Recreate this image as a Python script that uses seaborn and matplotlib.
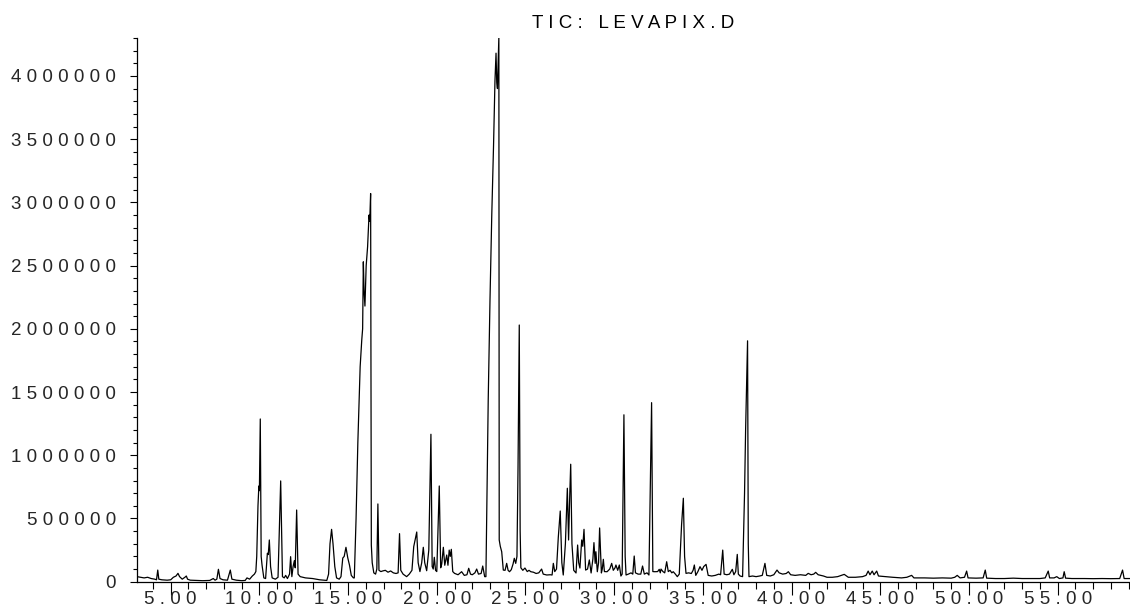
import numpy as np
import pandas as pd
import matplotlib
matplotlib.use("Agg")
import matplotlib.pyplot as plt
from matplotlib.ticker import MultipleLocator, FixedLocator, FixedFormatter
import seaborn as sns

# ---- data: retention time (min) and abundance (thousands of counts) ----
t_early = [3.10, 3.3, 3.5, 3.7, 3.9, 4.1, 4.2, 4.27, 4.33, 4.5, 4.8, 5.0, 5.15, 5.3, 5.41, 5.5,
           5.65, 5.8, 5.88, 5.95, 6.1, 6.4, 6.8, 7.2, 7.4, 7.5, 7.6, 7.69, 7.78, 7.95, 8.2, 8.36,
           8.45, 8.7, 9.0, 9.2, 9.3, 9.45, 9.6, 9.72, 9.8, 9.85, 9.92, 9.97, 10.0, 10.05, 10.1,
           10.15, 10.25]
y_early = [40, 35, 30, 35, 25, 20, 15, 92, 20, 15, 12, 15, 35, 45, 66, 40,
           20, 35, 45, 20, 12, 10, 8, 10, 25, 12, 20, 98, 25, 15, 12, 92,
           20, 12, 8, 10, 30, 20, 45, 60, 80, 200, 600, 757, 720, 1287, 200,
           130, 30]

t_mid1 = [10.35, 10.45, 10.5, 10.56, 10.63, 10.72, 10.9, 11.05, 11.2, 11.3, 11.4, 11.48, 11.58,
          11.7, 11.76, 11.83, 11.9, 11.97, 12.02, 12.1, 12.18, 12.3, 12.6, 13.0, 13.4, 13.8,
          13.9, 13.98, 14.07, 14.15, 14.25, 14.35, 14.5, 14.6, 14.7, 14.78, 14.88, 14.98,
          15.08, 15.18, 15.3]
y_mid1 = [25, 225, 215, 330, 120, 30, 20, 35, 797, 40, 30, 50, 25,
          60, 198, 40, 120, 166, 110, 567, 60, 40, 30, 25, 15, 10,
          60, 300, 414, 300, 120, 30, 20, 40, 187, 200, 272, 190,
          130, 50, 30]

t_big1 = [15.35, 15.45, 15.55, 15.68, 15.77, 15.82, 15.86, 15.9, 15.95, 16.02, 16.1, 16.18,
          16.22, 16.27, 16.31, 16.36, 16.45, 16.55, 16.62, 16.68, 16.74, 16.85]
y_big1 = [30, 500, 1100, 1700, 1910, 2000, 2530, 2300, 2180, 2500, 2650, 2900,
          2850, 3070, 290, 150, 70, 60, 100, 615, 90, 80]

t_mid2 = [16.95, 17.1, 17.25, 17.4, 17.55, 17.7, 17.82, 17.9, 17.97, 18.1, 18.3, 18.45, 18.6,
          18.7, 18.87, 18.95, 19.05, 19.15, 19.24, 19.32, 19.43, 19.55, 19.67, 19.74, 19.8,
          19.86, 19.93, 20.0, 20.14, 20.22, 20.28, 20.37, 20.45, 20.56, 20.63, 20.7, 20.76,
          20.82, 20.9, 21.0, 21.2, 21.4, 21.55, 21.7, 21.8, 21.9, 22.0, 22.15, 22.25, 22.35,
          22.5, 22.59, 22.7]
y_mid2 = [85, 90, 75, 85, 70, 65, 70, 380, 90, 60, 40, 60, 90,
          277, 393, 150, 80, 150, 272, 150, 87, 250, 1166, 120, 100,
          193, 90, 80, 757, 110, 140, 272, 130, 211, 130, 250, 200,
          256, 80, 66, 55, 79, 50, 55, 106, 60, 55, 70, 100, 60,
          65, 124, 40]

t_big2 = [22.77, 22.9, 23.0, 23.1, 23.2, 23.28, 23.34, 23.38, 23.42, 23.46, 23.5, 23.52, 23.58,
          23.66, 23.75, 23.85, 23.94, 24.02, 24.1, 24.2, 24.3, 24.37, 24.45, 24.52, 24.58,
          24.65, 24.7, 24.74]
y_big2 = [40, 1440, 2230, 2900, 3450, 3960, 4180, 3950, 3900, 4100, 4310, 330, 280,
          237, 92, 90, 145, 90, 79, 95, 140, 185, 145, 200, 900,
          2030, 400, 110]

t_mid3 = [24.85, 24.97, 25.1, 25.2, 25.3, 25.45, 25.6, 25.75, 25.91, 26.0, 26.2, 26.4, 26.5,
          26.57, 26.65, 26.75, 26.85, 26.96, 27.05, 27.13, 27.25, 27.36, 27.43, 27.5, 27.55,
          27.62, 27.72, 27.85, 27.94, 28.0, 28.07, 28.17, 28.23, 28.3, 28.39, 28.5, 28.6,
          28.7, 28.8, 28.86, 28.93, 28.97, 29.05, 29.12, 29.18, 29.28, 29.33, 29.39, 29.45,
          29.6, 29.75, 29.86, 29.95, 30.05, 30.1, 30.2, 30.29, 30.38]
y_mid3 = [90, 108, 80, 90, 79, 75, 65, 70, 100, 60, 53, 55, 53,
          145, 80, 100, 350, 559, 150, 53, 300, 739, 330, 700, 929,
          300, 90, 69, 290, 150, 108, 330, 280, 414, 92, 100, 172,
          69, 180, 309, 145, 237, 79, 150, 425, 69, 100, 177, 80,
          79, 100, 145, 90, 110, 132, 90, 132, 45]

t_late1 = [30.45, 30.55, 30.62, 30.67, 30.8, 30.95, 31.05, 31.13, 31.2, 31.35, 31.5, 31.6, 31.7,
           31.85, 31.96, 32.11, 32.18, 32.3, 32.45, 32.54, 32.6, 32.64, 32.75, 32.85, 32.96,
           33.05, 33.15, 33.25, 33.33, 33.45, 33.56, 33.67, 33.8, 33.9, 33.97, 34.05, 34.2,
           34.35, 34.45, 34.52, 34.6, 34.72, 34.84, 34.95, 35.05, 35.18, 35.3, 35.5, 35.7,
           35.9, 36.0, 36.12, 36.2, 36.35, 36.5, 36.66, 36.75, 36.85, 36.94, 37.0, 37.1,
           37.24, 37.35, 37.41, 37.47, 37.52, 37.56, 37.6]
y_late1 = [60, 1320, 200, 53, 60, 70, 60, 203, 70, 60, 60, 124, 60,
           70, 53, 1416, 80, 79, 80, 98, 70, 100, 80, 70, 158,
           80, 90, 70, 79, 60, 40, 60, 450, 660, 200, 66, 70,
           65, 90, 132, 50, 80, 119, 90, 120, 137, 50, 45, 50,
           60, 55, 250, 60, 55, 60, 98, 55, 80, 216, 60, 45,
           40, 700, 1200, 1600, 1905, 300, 40]

t_tail = [37.8, 38.0, 38.2, 38.35, 38.5, 38.6, 38.8, 39.0, 39.18, 39.3, 39.5, 39.7, 39.82,
          39.95, 40.2, 40.5, 40.8, 40.94, 41.1, 41.25, 41.36, 41.5, 41.8, 42.0, 42.3, 42.6,
          42.97, 43.2, 43.6, 44.0, 44.2, 44.32, 44.42, 44.55, 44.65, 44.8, 44.9, 45.3, 45.7,
          46.2, 46.5, 46.77, 46.9, 47.5, 48.0, 48.5, 49.0, 49.2, 49.34, 49.5, 49.75, 49.87,
          49.95, 50.4, 50.8, 50.92, 51.0, 51.5, 52.0, 52.5, 53.0, 53.5, 54.0, 54.3, 54.47,
          54.55, 54.8, 54.95, 55.1, 55.3, 55.37, 55.45, 55.8, 56.5, 57.0, 57.5, 58.0, 58.5,
          58.66, 58.75, 59.1]
y_tail = [45, 40, 45, 50, 145, 50, 45, 55, 92, 70, 60, 65, 79,
          55, 50, 55, 50, 66, 55, 60, 74, 55, 45, 35, 35, 40,
          58, 35, 35, 40, 50, 84, 55, 84, 55, 84, 45, 40, 35,
          30, 35, 50, 30, 30, 28, 30, 28, 35, 50, 30, 35, 84,
          30, 28, 30, 92, 28, 25, 25, 28, 25, 25, 25, 30, 84,
          30, 30, 40, 25, 30, 79, 28, 25, 25, 24, 25, 24, 25,
          92, 25, 25]

y_tick_values = [0, 500000, 1000000, 1500000, 2000000, 2500000, 3000000, 3500000, 4000000]
y_tick_labels = ["0", "500000", "1000000", "1500000", "2000000", "2500000", "3000000",
                 "3500000", "4000000"]
x_tick_values = [5, 10, 15, 20, 25, 30, 35, 40, 45, 50, 55]
x_tick_labels = ["5.00", "10.00", "15.00", "20.00", "25.00", "30.00", "35.00", "40.00",
                 "45.00", "50.00", "55.00"]
title_text = "TIC: LEVAPIX.D"

# ---- assemble ----
times = t_early + t_mid1 + t_big1 + t_mid2 + t_big2 + t_mid3 + t_late1 + t_tail
abund = y_early + y_mid1 + y_big1 + y_mid2 + y_big2 + y_mid3 + y_late1 + y_tail
df = pd.DataFrame({"time": times, "abundance": np.array(abund, dtype=float) * 1000.0})


def spaced(s):
    return " ".join(list(s))


sns.set_theme(style="white")
plt.rcParams["font.family"] = ["Liberation Sans", "DejaVu Sans"]

fig = plt.figure(figsize=(11.3, 6.16), dpi=100)
ax = fig.add_axes([137 / 1130, 1 - 581.7 / 616, 1 - 137 / 1130, (581.7 - 38) / 616])

sns.lineplot(data=df, x="time", y="abundance", ax=ax, color="black", linewidth=0.9,
             estimator=None, sort=False)

ax.set_xlim(3.10, 59.08)
ax.set_ylim(0, 4300000)

for side in ["top", "right"]:
    ax.spines[side].set_visible(False)
for side in ["left", "bottom"]:
    ax.spines[side].set_color("black")
    ax.spines[side].set_linewidth(0.9)

ax.yaxis.set_major_locator(FixedLocator(y_tick_values))
ax.yaxis.set_major_formatter(FixedFormatter([spaced(s) for s in y_tick_labels]))
ax.yaxis.set_minor_locator(MultipleLocator(100000))
ax.xaxis.set_major_locator(FixedLocator(x_tick_values))
ax.xaxis.set_major_formatter(FixedFormatter([spaced(s) for s in x_tick_labels]))
ax.xaxis.set_minor_locator(MultipleLocator(1))

ax.tick_params(axis="y", which="major", direction="out", length=5, width=0.8,
               color="black", labelsize=13.5, pad=10, left=True)
ax.tick_params(axis="y", which="minor", direction="out", length=3, width=0.8,
               color="black", left=True)
ax.tick_params(axis="x", which="major", direction="out", length=9, width=0.8,
               color="black", labelsize=13.5, pad=-2.5, bottom=True)
ax.tick_params(axis="x", which="minor", direction="out", length=5, width=0.8,
               color="black", bottom=True)

ax.set_xlabel("")
ax.set_ylabel("")
ax.grid(False)

fig.text(633 / 1130, 1 - 24 / 616, spaced(title_text), ha="center", va="center",
         fontsize=13.5, color="black")

fig.savefig("out.png", dpi=100)
